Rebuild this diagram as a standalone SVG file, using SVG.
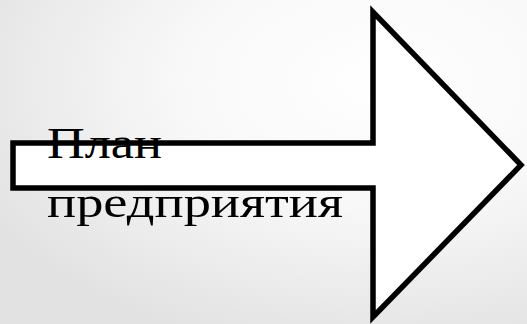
<svg xmlns="http://www.w3.org/2000/svg" width="527" height="324" viewBox="0 0 527 324">
<defs>
<radialGradient id="bg" cx="0.72" cy="0.25" r="0.85">
<stop offset="0" stop-color="#ffffff"/>
<stop offset="0.45" stop-color="#f8f8f8"/>
<stop offset="1" stop-color="#e2e2e2"/>
</radialGradient>
<style>
.arrow{fill:#ffffff;stroke:#000000;stroke-width:5.5;stroke-linejoin:miter}
.lbl{font-family:"Liberation Serif","DejaVu Serif",serif;font-size:44px;fill:#000000}
</style>
</defs>
<rect width="527" height="324" fill="url(#bg)"/>
<g id="arrow">
<polygon class="arrow" points="13,143 373,143 373,12 521,165 373,317 373,188 13,188"/>
</g>
<g id="label">
<text class="lbl" x="47" y="158" textLength="115" lengthAdjust="spacingAndGlyphs">План</text>
<text class="lbl" x="47" y="217" textLength="296" lengthAdjust="spacingAndGlyphs">предприятия</text>
</g>
<g id="connectors"></g>
</svg>
